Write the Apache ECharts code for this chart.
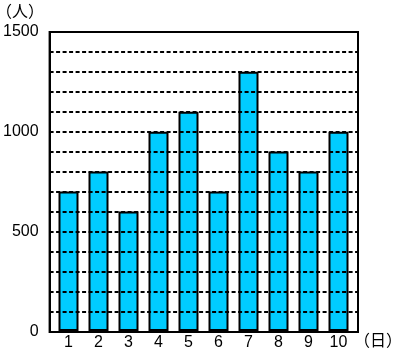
<!DOCTYPE html>
<html>
<head>
<meta charset="utf-8">
<script src="https://cdn.jsdelivr.net/npm/echarts@6/dist/echarts.min.js"></script>
<style>
  html, body { margin: 0; padding: 0; background: #fff; }
  #chart { width: 395px; height: 351px; }
</style>
</head>
<body>
<div id="chart"></div>
<script>
const days = ['1', '2', '3', '4', '5', '6', '7', '8', '9', '10']
const people = [700, 800, 600, 1000, 1100, 700, 1300, 900, 800, 1000]
const yMax = 1500
const yStep = 100
const labelStep = 500

const font = 'Liberation Sans, Arial, sans-serif'
const cjk = 'Noto Sans CJK JP, sans-serif'

// dashed guide lines every 100, drawn over the bars
const guideValues = []
for (let v = yStep; v < yMax; v += yStep) guideValues.push(v)

const chart = echarts.init(document.getElementById('chart'))

chart.setOption({
  animation: false,
  grid: [
    // bars
    { left: 53.5, right: 41.5, top: 32, bottom: 19 },
    // frame
    { left: 48, right: 37, top: 32, bottom: 19, show: true, borderColor: '#000', borderWidth: 2 },
  ],
  xAxis: [
    {
      type: 'category',
      gridIndex: 0,
      data: days,
      axisLine: { show: false },
      axisTick: { show: false },
      axisLabel: { color: '#000', fontSize: 16, fontFamily: font, margin: 4 },
    },
    { type: 'value', gridIndex: 1, min: 0, max: 1, show: false },
  ],
  yAxis: [
    { type: 'value', gridIndex: 0, min: 0, max: yMax, show: false },
    {
      type: 'value',
      gridIndex: 1,
      min: 0,
      max: yMax,
      interval: yStep,
      axisLine: { show: true, lineStyle: { color: '#000', width: 2 } },
      axisTick: { show: false },
      axisLabel: {
        color: '#000',
        fontSize: 16,
        fontFamily: font,
        margin: 11,
        formatter: v => (v % labelStep === 0 ? String(v) : ''),
      },
      splitLine: { show: false },
    },
  ],
  graphic: [
    { type: 'text', x: -4, y: 3, style: { text: '（人）', fontSize: 16, fontFamily: cjk, fill: '#000' } },
    { type: 'text', x: 354, y: 332, style: { text: '（日）', fontSize: 16, fontFamily: cjk, fill: '#000' } },
  ],
  series: [
    {
      type: 'bar',
      xAxisIndex: 0,
      yAxisIndex: 0,
      data: people,
      barWidth: 20,
      z: 1,
      itemStyle: { color: '#00CCFF', borderColor: '#000', borderWidth: 2 },
    },
    {
      type: 'custom',
      xAxisIndex: 1,
      yAxisIndex: 1,
      z: 50,
      silent: true,
      clip: false,
      data: guideValues.map(v => [0, v]),
      renderItem: (params, api) => {
        const a = api.coord([0, api.value(1)])
        const b = api.coord([1, api.value(1)])
        return {
          type: 'line',
          z2: 100,
          shape: { x1: a[0], y1: a[1], x2: b[0], y2: b[1] },
          style: { stroke: '#000', lineWidth: 2, lineDash: [4, 2.5] },
        }
      },
    },
  ],
})
</script>
</body>
</html>
